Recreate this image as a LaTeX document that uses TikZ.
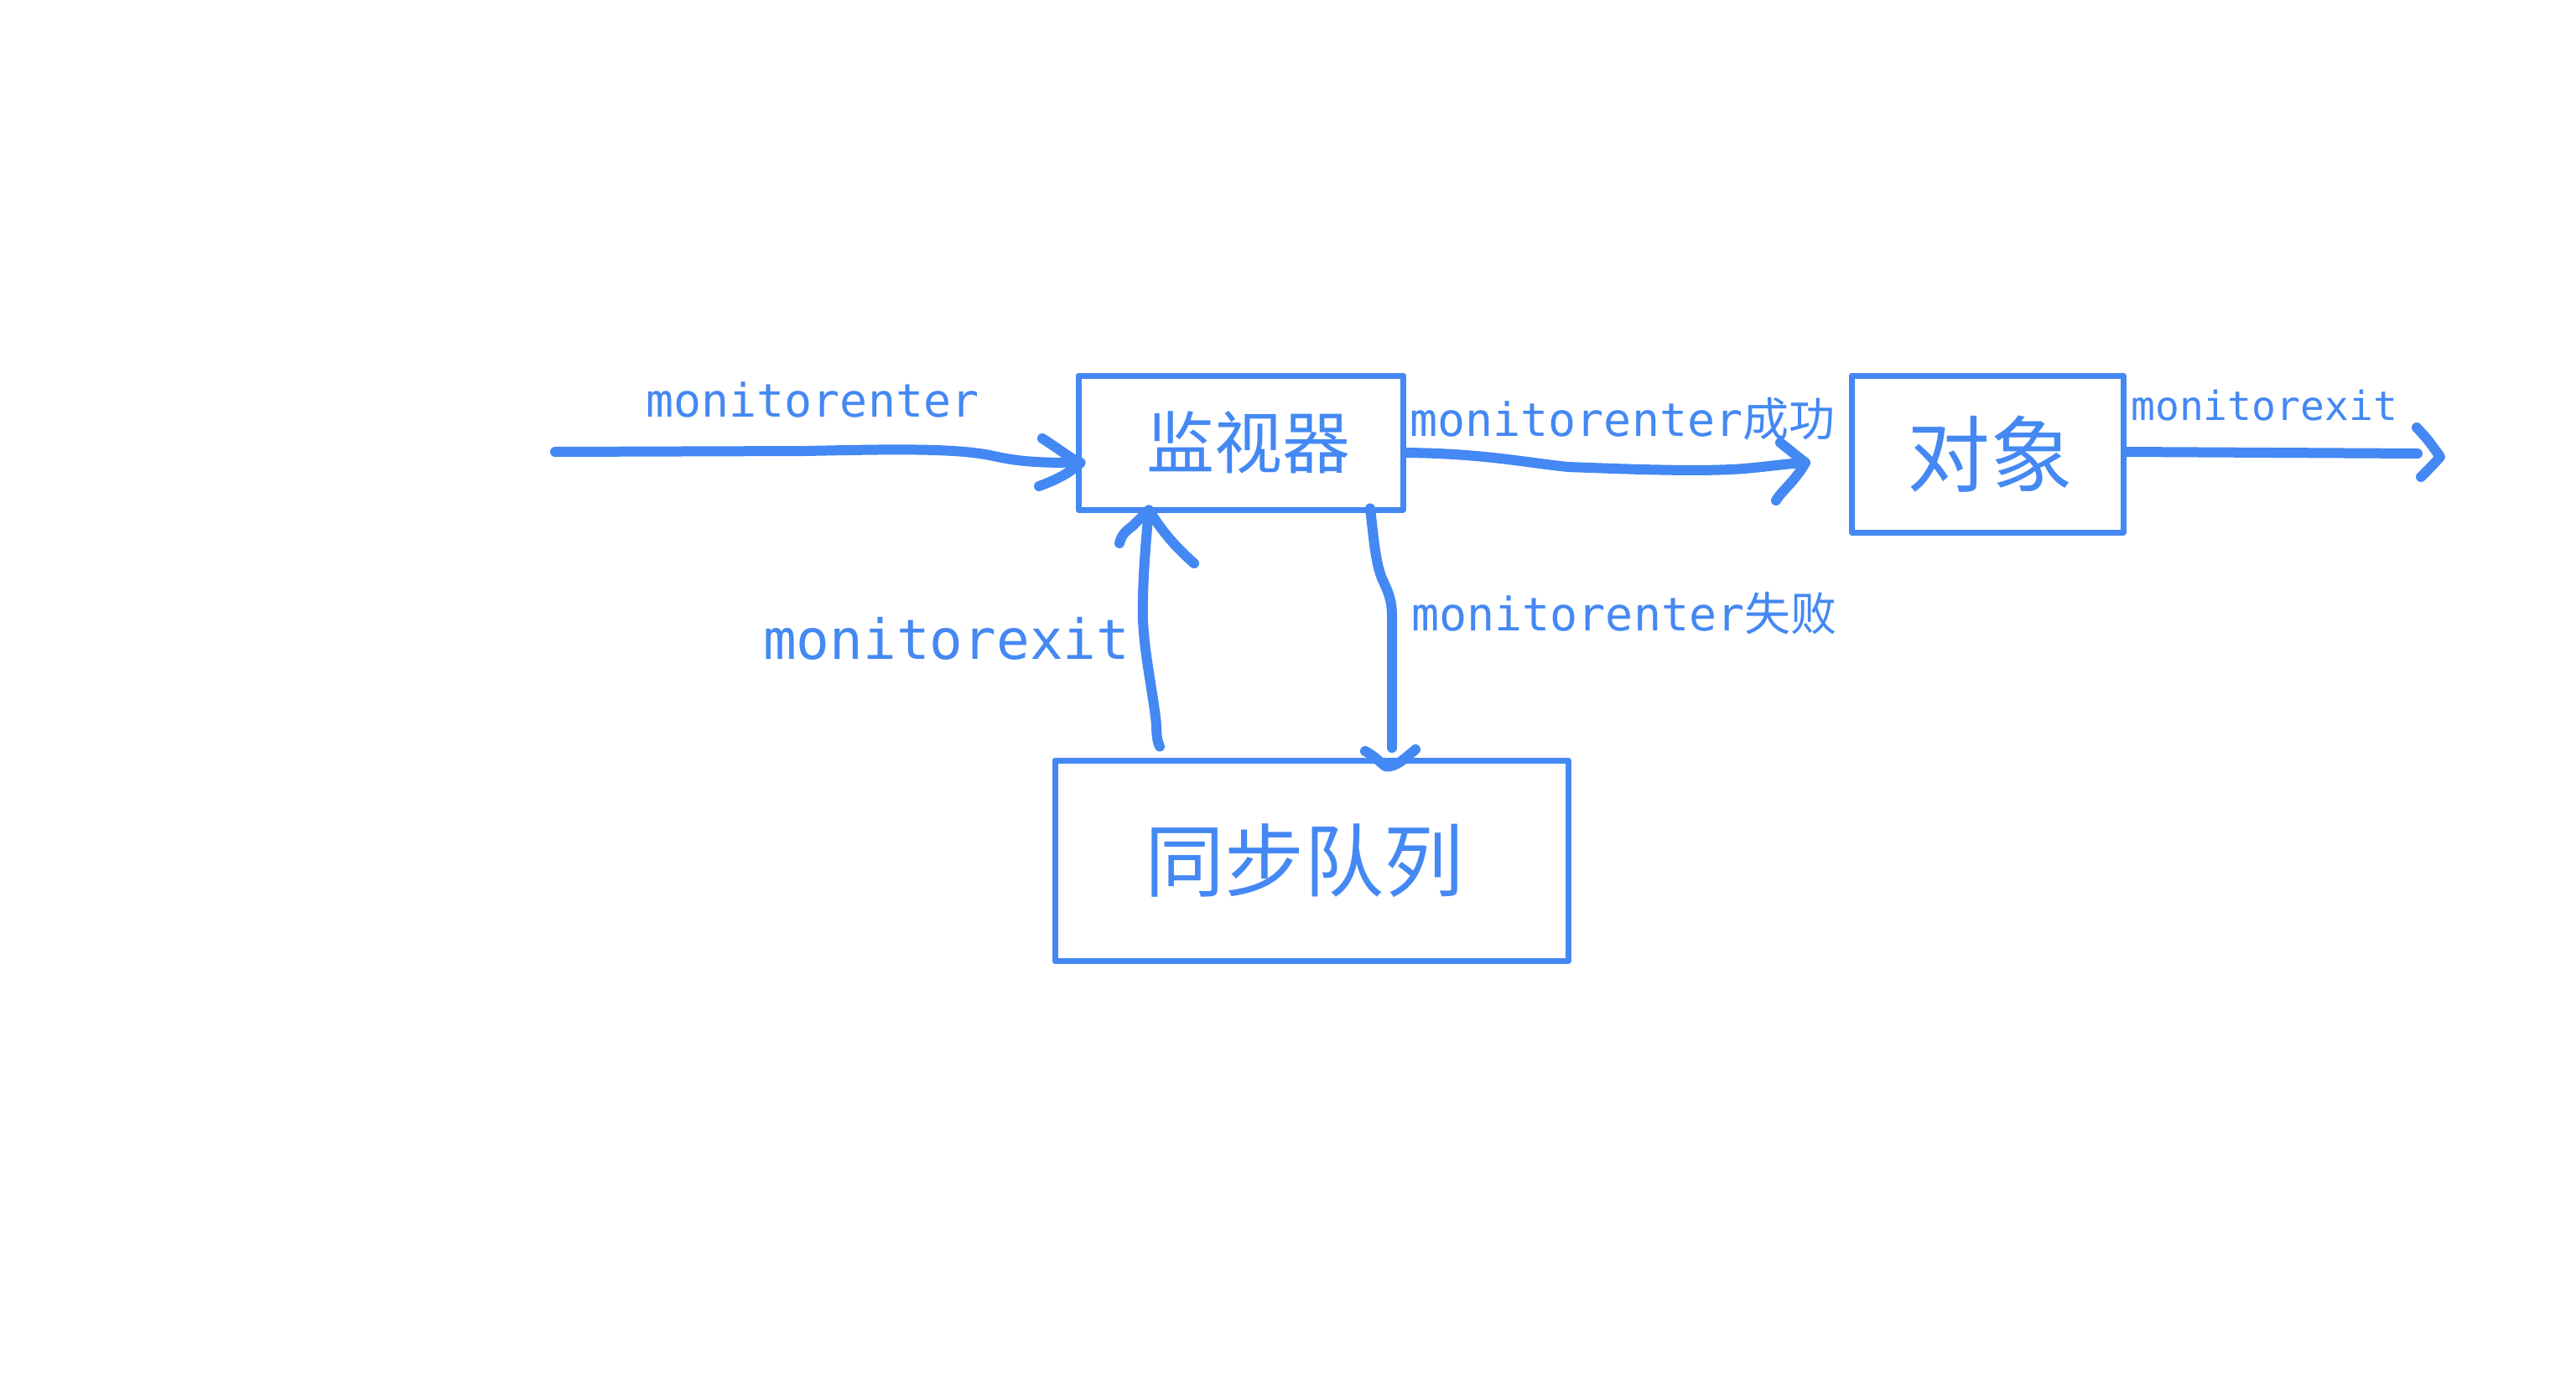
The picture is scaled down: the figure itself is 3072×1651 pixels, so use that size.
\documentclass[tikz,border=0pt]{standalone}
\usepackage{fontspec}
\newfontfamily\mono{DejaVu Sans Mono}
\newfontfamily\cjk{Noto Sans CJK SC}
\definecolor{myblue}{HTML}{4488F3}
\begin{document}
\begin{tikzpicture}[x=1pt,y=-1pt,
  box/.style={draw=myblue, line width=7pt, inner sep=0pt, line join=round, text=myblue},
  flow/.style={draw=myblue, line width=12pt, line cap=round, line join=round},
  lab/.style={text=myblue, inner sep=0pt, anchor=base west}]
\fill[white] (0,0) rectangle (3072,1651);
\useasboundingbox (0,0) rectangle (3072,1651);

% boxes
\node[box, minimum width=387pt, minimum height=160pt, font=\cjk\fontsize{81}{90}\selectfont] (mon) at (1479.5,528) {\hspace*{18pt}监视器};
\node[box, minimum width=324pt, minimum height=187pt, font=\cjk\fontsize{99}{110}\selectfont] (obj) at (2370,541.5) {\hspace*{6pt}对象};
\node[box, minimum width=612pt, minimum height=239pt, font=\cjk\fontsize{95}{108}\selectfont] (queue) at (1564,1026.5) {同步队列\hspace*{18pt}};

% labels
\node[lab, font=\mono\fontsize{55}{60}\selectfont] (l1) at (770,497) {monitorenter};
\node[lab, font=\mono\fontsize{55}{60}\selectfont] (l2) at (1681,520) {monitorenter{\cjk 成功}};
\node[lab, font=\mono\fontsize{48}{54}\selectfont] (l3) at (2541,501) {monitorexit};
\node[lab, font=\mono\fontsize{66}{72}\selectfont] (l4) at (910,786) {monitorexit};
\node[lab, font=\mono\fontsize{55}{60}\selectfont] (l5) at (1683,752) {monitorenter{\cjk 失败}};

% coordinates
\coordinate (inStart) at (662,539);
\coordinate (t1) at ([xshift=6pt,yshift=-24pt]mon.west);
\coordinate (s0) at ([yshift=-12pt]mon.east);
\coordinate (t2) at (2153,552);
\coordinate (r0) at ([yshift=2.5pt]obj.east);
\coordinate (r1) at (2883,541);
\coordinate (t3) at (2910,545);
\coordinate (u0) at ([xshift=-181pt,yshift=13pt]queue.north);
\coordinate (t4) at ([xshift=-109.5pt,yshift=3pt]mon.south);
\coordinate (d0) at ([xshift=154.5pt,yshift=5pt]mon.south);
\coordinate (t5) at ([xshift=89pt,yshift=-11pt]queue.north);

% input arrow
\draw[flow] (inStart) -- (960,538) .. controls (1060,536) and (1140,534) .. (1185,544) .. controls (1220,552) and (1250,552) .. (t1);
\draw[flow] (1243,523) .. controls (1262,535) and (1278,548) .. (t1) .. controls (1275,565) and (1258,573) .. (1239,580);

% success arrow
\draw[flow] (s0) .. controls (1770,541) and (1820,552) .. (1870,557) .. controls (1950,560) and (2030,563) .. (2080,559) .. controls (2115,556) and (2130,553) .. (t2);
\draw[flow] (2123,528) -- (t2) .. controls (2140,575) and (2125,585) .. (2118,597);

% exit arrow
\draw[flow] (r0) -- (r1);
\draw[flow] (2882,510) .. controls (2895,524) .. (t3) .. controls (2900,556) .. (2887,569);

% up arrow (monitorexit)
\draw[flow] (u0) .. controls (1378,880) and (1380,870) .. (1378,855) .. controls (1372,810) and (1365,780) .. (1363,740) .. controls (1362,700) and (1366,650) .. (t4);
\draw[flow] (1335,648) .. controls (1338,636) and (1345,632) .. (1350,628) -- (t4) .. controls (1390,640) and (1405,655) .. (1424,672);

% down arrow (monitorenter fail)
\draw[flow] (d0) .. controls (1638,640) and (1640,670) .. (1648,690) .. controls (1655,705) and (1660,715) .. (1660,735) -- (1660,892);
\draw[flow] (1628,896) .. controls (1640,902) and (1648,912) .. (t5) .. controls (1665,915) and (1675,905) .. (1688,894);
\end{tikzpicture}
\end{document}
